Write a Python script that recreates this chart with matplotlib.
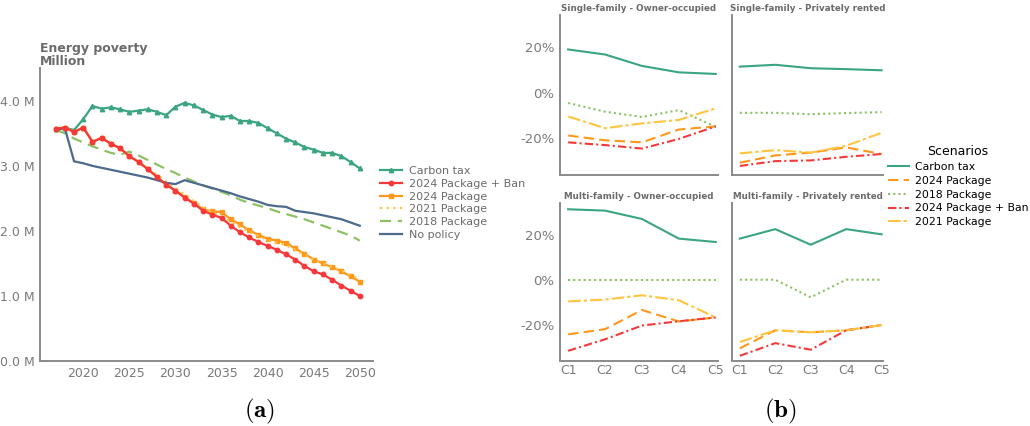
import matplotlib
matplotlib.use("Agg")
import matplotlib.pyplot as plt
from matplotlib.ticker import FuncFormatter

plt.rcParams["mathtext.fontset"] = "cm"

# ----- data: panel (a), energy poverty in million households -----
years = list(range(2017, 2051))

carbon_tax = [3.56, 3.59, 3.55, 3.72, 3.92, 3.88, 3.90, 3.87, 3.83, 3.85,
              3.87, 3.83, 3.78, 3.91, 3.97, 3.93, 3.86, 3.79, 3.75, 3.77,
              3.69, 3.69, 3.66, 3.58, 3.50, 3.42, 3.36, 3.29, 3.25, 3.20,
              3.20, 3.15, 3.06, 2.96]
pkg2024_ban = [3.57, 3.59, 3.52, 3.59, 3.37, 3.43, 3.34, 3.27, 3.15, 3.06,
               2.95, 2.83, 2.71, 2.62, 2.51, 2.42, 2.31, 2.25, 2.20, 2.08,
               1.98, 1.90, 1.83, 1.77, 1.71, 1.64, 1.56, 1.46, 1.38, 1.33,
               1.25, 1.16, 1.08, 1.00]
pkg2024 = [3.57, 3.59, 3.52, 3.59, 3.37, 3.43, 3.34, 3.27, 3.15, 3.06,
           2.95, 2.83, 2.71, 2.62, 2.52, 2.43, 2.33, 2.30, 2.29, 2.18,
           2.10, 2.01, 1.94, 1.88, 1.85, 1.82, 1.73, 1.65, 1.56, 1.50,
           1.44, 1.38, 1.30, 1.22]
pkg2021 = [3.57, 3.59, 3.52, 3.59, 3.37, 3.43, 3.34, 3.27, 3.15, 3.06,
           2.96, 2.86, 2.76, 2.66, 2.56, 2.46, 2.36, 2.28, 2.22, 2.14,
           2.06, 1.99, 1.92, 1.86, 1.82, 1.78, 1.71, 1.63, 1.56, 1.50,
           1.45, 1.39, 1.32, 1.26]
pkg2018 = [3.56, 3.50, 3.42, 3.36, 3.30, 3.25, 3.20, 3.17, 3.22, 3.16,
           3.09, 3.02, 2.95, 2.89, 2.82, 2.76, 2.70, 2.65, 2.60, 2.55,
           2.48, 2.43, 2.39, 2.35, 2.30, 2.26, 2.22, 2.18, 2.13, 2.08,
           2.03, 1.98, 1.93, 1.85]
no_policy = [3.55, 3.58, 3.07, 3.04, 3.00, 2.97, 2.94, 2.91, 2.88, 2.85,
             2.82, 2.78, 2.74, 2.72, 2.78, 2.74, 2.70, 2.66, 2.62, 2.58,
             2.53, 2.49, 2.45, 2.40, 2.38, 2.37, 2.31, 2.29, 2.27, 2.24,
             2.21, 2.18, 2.13, 2.08]

# ----- data: panel (b), change in energy poverty per income class (%) -----
classes = ["C1", "C2", "C3", "C4", "C5"]
panel_titles = ["Single-family - Owner-occupied", "Single-family - Privately rented",
                "Multi-family - Owner-occupied", "Multi-family - Privately rented"]

b_carbon_tax = [[18.9, 16.7, 11.7, 8.9, 8.2],
                [11.4, 12.2, 10.7, 10.3, 9.8],
                [31.2, 30.6, 26.9, 18.2, 16.7],
                [18.2, 22.4, 15.5, 22.4, 20.1]]
b_pkg2024 = [[-18.7, -20.8, -21.7, -16.1, -14.7],
             [-30.6, -27.4, -26.2, -23.9, -26.8],
             [-24.2, -21.9, -13.4, -18.5, -16.7],
             [-30.4, -22.4, -23.3, -22.4, -20.1]]
b_pkg2018 = [[-4.5, -8.3, -10.6, -7.6, -14.9],
             [-8.8, -8.8, -9.4, -8.9, -8.5],
             [0.0, 0.0, 0.0, 0.0, 0.0],
             [0.0, 0.0, -7.8, 0.0, 0.0]]
b_pkg2024_ban = [[-21.7, -22.9, -24.4, -20.2, -14.7],
                 [-32.0, -29.9, -29.6, -28.0, -26.8],
                 [-31.5, -26.4, -20.3, -18.4, -16.7],
                 [-33.7, -28.1, -31.0, -22.4, -20.1]]
b_pkg2021 = [[-10.4, -15.5, -13.4, -11.9, -6.8],
             [-26.5, -25.1, -26.2, -23.2, -17.5],
             [-9.6, -8.8, -6.9, -9.1, -16.7],
             [-27.6, -22.4, -23.3, -22.4, -20.1]]

# ----- colours -----
c_carbon = "#3aa57e"
c_ban = "#f5393b"
c_2024 = "#ff971c"
c_2021 = "#ffc43d"
c_2018 = "#8cc263"
c_none = "#4c6a8c"
grey_text = "#6b6b6b"
grey_tick = "#7a7a7a"
grey_spine = "#8a8a8a"

fig = plt.figure(figsize=(10.30, 4.26), dpi=100)


def style_axes(ax):
    for side in ["top", "right"]:
        ax.spines[side].set_visible(False)
    for side in ["left", "bottom"]:
        ax.spines[side].set_color(grey_spine)
        ax.spines[side].set_linewidth(1.4)
    ax.tick_params(length=0, colors=grey_tick, pad=4)


# ----- panel (a) -----
ax = fig.add_axes([0.0388, 0.1526, 0.323, 0.687])
style_axes(ax)
ax.plot(years, carbon_tax, color=c_carbon, lw=1.6, marker="^", ms=3.2,
        label="Carbon tax")
ax.plot(years, pkg2024_ban, color=c_ban, lw=1.6, marker="o", ms=3.2,
        label="2024 Package + Ban", zorder=3)
ax.plot(years, pkg2024, color=c_2024, lw=1.6, marker="s", ms=3.0,
        label="2024 Package")
ax.plot(years, pkg2021, color=c_2021, lw=1.6, ls=(0, (1, 2)),
        label="2021 Package")
ax.plot(years, pkg2018, color=c_2018, lw=1.6, ls=(0, (5, 3)),
        label="2018 Package")
ax.plot(years, no_policy, color=c_none, lw=1.6, label="No policy")
ax.set_xlim(2015.3, 2051.4)
ax.set_ylim(0, 4.5)
ax.set_xticks([2020, 2025, 2030, 2035, 2040, 2045, 2050])
ax.set_yticks([0, 1, 2, 3, 4])
ax.yaxis.set_major_formatter(FuncFormatter(lambda v, p: f"{v:.1f} M"))
ax.tick_params(labelsize=9)
ax.text(0.0, 1.0, "Energy poverty\nMillion", transform=ax.transAxes,
        fontsize=9, fontweight="bold", color=grey_text, va="bottom",
        ha="left", linespacing=1.0)
leg = ax.legend(loc="center left", bbox_to_anchor=(1.0, 0.54), frameon=False,
                fontsize=8, handlelength=1.9, labelspacing=0.25,
                handletextpad=0.7, borderaxespad=0.3)
for t in leg.get_texts():
    t.set_color(grey_text)

# ----- panel (b) -----
positions = [[0.5437, 0.589, 0.153, 0.376],
             [0.7107, 0.589, 0.147, 0.376],
             [0.5437, 0.1526, 0.153, 0.371],
             [0.7107, 0.1526, 0.147, 0.371]]
xs = list(range(len(classes)))
for i, pos in enumerate(positions):
    bx = fig.add_axes(pos)
    style_axes(bx)
    bx.plot(xs, b_carbon_tax[i], color=c_carbon, lw=1.5, label="Carbon tax")
    bx.plot(xs, b_pkg2024[i], color=c_2024, lw=1.5, ls=(0, (5, 2.5)),
            label="2024 Package")
    bx.plot(xs, b_pkg2018[i], color=c_2018, lw=1.5, ls=(0, (1, 1.5)),
            label="2018 Package")
    bx.plot(xs, b_pkg2024_ban[i], color=c_ban, lw=1.5, ls=(0, (4, 1.5, 1, 1.5)),
            label="2024 Package + Ban")
    bx.plot(xs, b_pkg2021[i], color=c_2021, lw=1.5, ls=(0, (6, 1.5, 1.5, 1.5)),
            label="2021 Package")
    bx.set_ylim(-36, 34)
    bx.set_xlim(-0.22, 4.05)
    bx.set_yticks([-20, 0, 20])
    bx.set_xticks(xs)
    bx.set_title(panel_titles[i], fontsize=6.3, fontweight="bold",
                 color=grey_text, pad=3)
    if i % 2 == 0:
        bx.yaxis.set_major_formatter(FuncFormatter(lambda v, p: f"{v:.0f}%"))
        bx.tick_params(axis="y", labelsize=9.5)
    else:
        bx.set_yticklabels([])
    if i >= 2:
        bx.set_xticklabels(classes)
        bx.tick_params(axis="x", labelsize=9, pad=2)
    else:
        bx.set_xticklabels([])
    if i == 1:
        leg2 = bx.legend(loc="center left", bbox_to_anchor=(1.0, -0.07),
                         frameon=False, fontsize=7.8, title="Scenarios",
                         title_fontsize=9, handlelength=2.0,
                         labelspacing=0.35, handletextpad=0.5,
                         borderaxespad=0.0)

fig.text(0.252, 0.035, r"$\mathbf{(a)}$", ha="center", va="center",
         fontsize=18)
fig.text(0.758, 0.035, r"$\mathbf{(b)}$", ha="center", va="center",
         fontsize=18)

fig.savefig("out.png", dpi=100)
